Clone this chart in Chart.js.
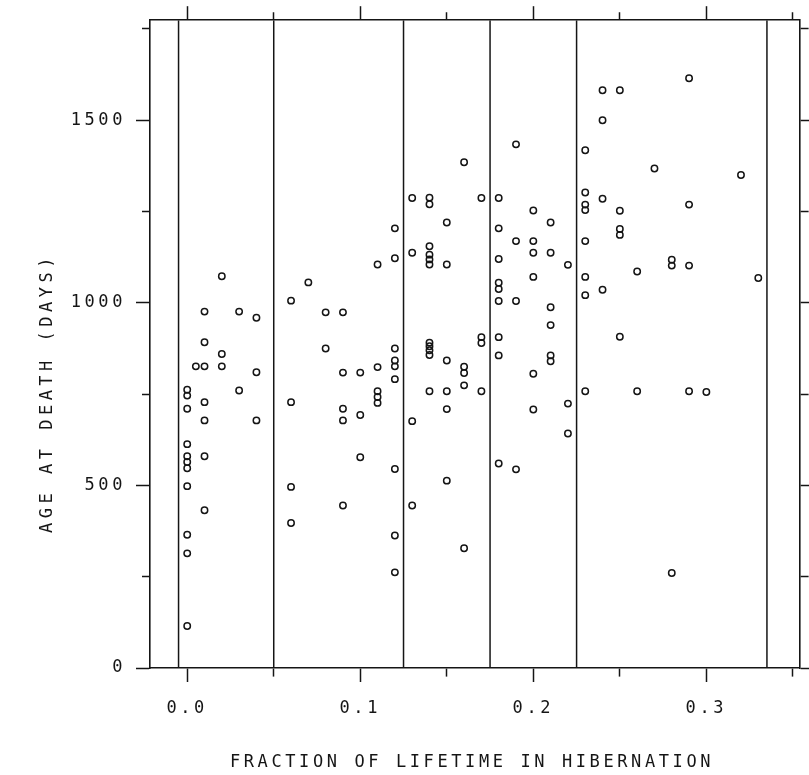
<!DOCTYPE html>
<html>
<head>
<meta charset="utf-8">
<title>Age at death vs hibernation</title>
<script src="https://cdn.jsdelivr.net/npm/chart.js@4.4.0/dist/chart.umd.min.js"></script>
<style>
  html, body { margin: 0; padding: 0; background: #fff; }
  canvas { display: block; }
</style>
</head>
<body>
<canvas id="chart" width="809" height="775"></canvas>
<script>
// fraction of lifetime spent hibernating (one entry per column of points)
const fractions = [0.00, 0.005, 0.01, 0.02, 0.03, 0.04, 0.06, 0.07, 0.08, 0.09, 0.10, 0.11,
  0.12, 0.13, 0.14, 0.15, 0.16, 0.17, 0.18, 0.19, 0.20, 0.21, 0.22, 0.23, 0.24, 0.25,
  0.26, 0.27, 0.28, 0.29, 0.30, 0.32, 0.33];

// age at death in days for the animals at each fraction above
const ageDays = [
  [762, 746, 710, 613, 580, 564, 547, 498, 365, 314, 115],
  [826],
  [976, 892, 826, 728, 678, 580, 432],
  [1073, 860, 826],
  [976, 760],
  [959, 810, 678],
  [1006, 728, 496, 397],
  [1056],
  [974, 875],
  [974, 809, 710, 678, 445],
  [809, 693, 577],
  [1105, 824, 758, 742, 726],
  [1204, 1122, 875, 842, 826, 791, 545, 363, 262],
  [1287, 1137, 676, 445],
  [1288, 1270, 1155, 1132, 1119, 1105, 891, 881, 870, 857, 758],
  [1220, 1105, 842, 758, 709, 513],
  [1385, 825, 808, 774, 328],
  [1287, 906, 890, 758],
  [1287, 1204, 1120, 1055, 1038, 1005, 906, 856, 560],
  [1434, 1169, 1005, 544],
  [1253, 1169, 1137, 1071, 806, 708],
  [1220, 1137, 988, 939, 856, 840],
  [1104, 724, 642],
  [1418, 1302, 1269, 1254, 1169, 1071, 1021, 758],
  [1582, 1500, 1285, 1036],
  [1582, 1252, 1202, 1186, 907],
  [1086, 758],
  [1368],
  [1118, 1102, 260],
  [1615, 1269, 1102, 758],
  [756],
  [1350],
  [1068]
];

// vertical dividing lines
const cutPoints = [-0.005, 0.05, 0.125, 0.175, 0.225, 0.335];

// tick positions; long ticks carry a label, short ones an empty string
const xTicks = [0, 0.05, 0.1, 0.15, 0.2, 0.25, 0.3, 0.35];
const xTickLabels = ['0.0', '', '0.1', '', '0.2', '', '0.3', ''];
const yTicks = [0, 250, 500, 750, 1000, 1250, 1500, 1750];
const yTickLabels = ['0', '', '500', '', '1000', '', '1500', ''];

const xTitle = 'FRACTION OF LIFETIME IN HIBERNATION';
const yTitle = 'AGE AT DEATH (DAYS)';

const xMin = -0.0215, xMax = 0.3541;
const yMin = 0, yMax = 1774;

const FONT = "'DejaVu Sans Mono', monospace";
const ink = '#151515';
const spacing = '3.6px';

const points = [];
fractions.forEach((f, i) => {
  ageDays[i].forEach(a => points.push({ x: f, y: a }));
});

const cutSets = cutPoints.map(c => ({
  type: 'line',
  data: [{ x: c, y: yMin }, { x: c, y: yMax }],
  borderColor: ink,
  borderWidth: 1.5,
  pointRadius: 0,
  fill: false
}));

// short ticks: dash drawn from the axis outward (bottom/right) or from the outer end (top/left)
const shortOut = [8, 100];
const shortIn = [0, 6, 8, 100];

function grid(labels, dash) {
  return {
    drawOnChartArea: false,
    drawTicks: true,
    tickLength: 14,
    tickWidth: 1.5,
    tickColor: ink,
    tickBorderDash: ctx => (ctx.index !== undefined && labels[ctx.index] === '') ? dash : []
  };
}

const setTicks = values => scale => {
  scale.ticks = values.map(v => ({ value: v }));
};

const border = { display: true, color: ink, width: 1.6 };

const textSpacing = {
  id: 'textSpacing',
  beforeDraw(chart) { chart.ctx.letterSpacing = spacing; }
};

const axisTitles = {
  id: 'axisTitles',
  afterDraw(chart) {
    const ctx = chart.ctx;
    const area = chart.chartArea;
    ctx.save();
    ctx.font = '17px ' + FONT;
    ctx.fillStyle = ink;
    ctx.textAlign = 'center';
    ctx.textBaseline = 'middle';
    ctx.letterSpacing = spacing;
    ctx.fillText(xTitle, (area.left + area.right) / 2 - 3, area.bottom + 95);
    ctx.letterSpacing = '4.5px';
    ctx.translate(area.left - 102, area.bottom - 275);
    ctx.rotate(-Math.PI / 2);
    ctx.fillText(yTitle, 0, 0);
    ctx.restore();
  }
};

new Chart(document.getElementById('chart'), {
  type: 'scatter',
  data: {
    datasets: [{
      data: points,
      pointStyle: 'circle',
      pointRadius: 3.2,
      pointBorderWidth: 1.5,
      pointBorderColor: ink,
      pointBackgroundColor: 'rgba(0,0,0,0)'
    }, ...cutSets]
  },
  options: {
    responsive: false,
    animation: false,
    events: [],
    layout: { padding: 0 },
    plugins: { legend: { display: false }, tooltip: { enabled: false } },
    scales: {
      x: {
        type: 'linear', position: 'bottom', min: xMin, max: xMax,
        afterBuildTicks: setTicks(xTicks),
        ticks: {
          autoSkip: false, maxRotation: 0,
          padding: 16, color: ink, font: { family: FONT, size: 17 },
          callback: (v, i) => xTickLabels[i]
        },
        grid: grid(xTickLabels, shortOut),
        border: border,
        afterFit: s => { s.height = 107; }
      },
      x2: {
        type: 'linear', position: 'top', min: xMin, max: xMax,
        afterBuildTicks: setTicks(xTicks),
        ticks: { autoSkip: false, display: false },
        grid: grid(xTickLabels, shortIn),
        border: border,
        afterFit: s => { s.height = 19; }
      },
      y: {
        type: 'linear', position: 'left', min: yMin, max: yMax,
        afterBuildTicks: setTicks(yTicks),
        ticks: {
          autoSkip: false,
          padding: 10, color: ink, font: { family: FONT, size: 17 },
          callback: (v, i) => yTickLabels[i]
        },
        grid: grid(yTickLabels, shortIn),
        border: border,
        afterFit: s => { s.width = 150; }
      },
      y2: {
        type: 'linear', position: 'right', min: yMin, max: yMax,
        afterBuildTicks: setTicks(yTicks),
        ticks: { autoSkip: false, display: false },
        grid: grid(yTickLabels, shortOut),
        border: border,
        afterFit: s => { s.width = 8; }
      }
    }
  },
  plugins: [textSpacing, axisTitles]
});
</script>
</body>
</html>
